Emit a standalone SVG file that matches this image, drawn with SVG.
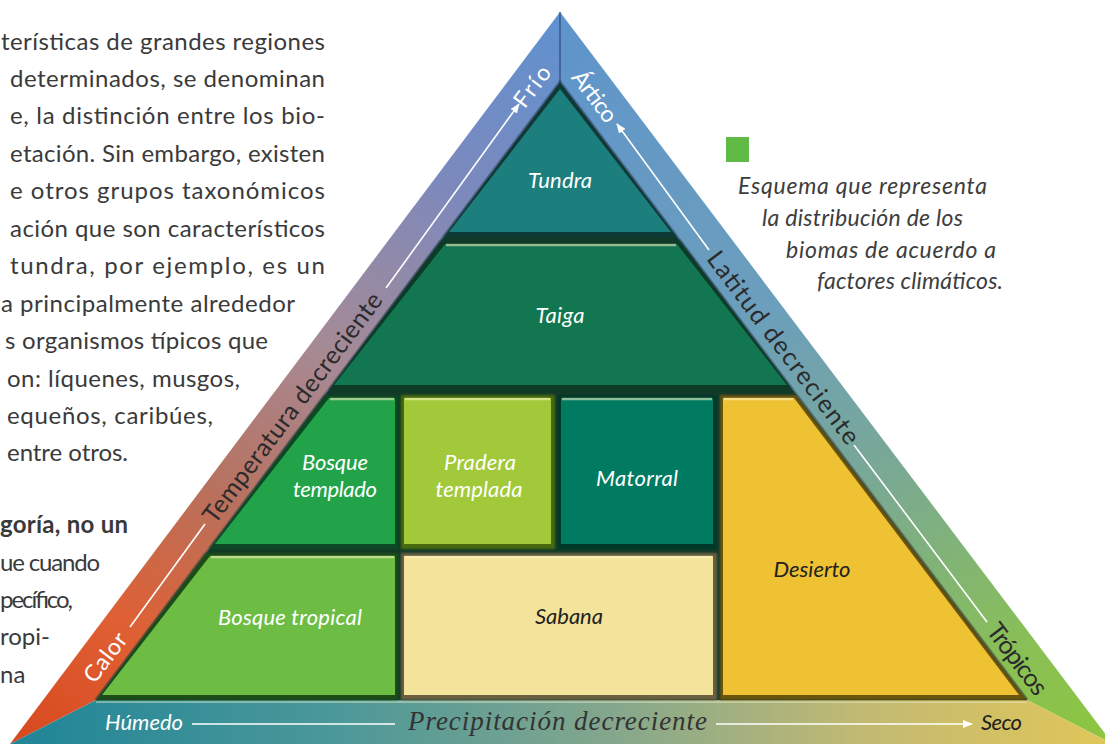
<svg xmlns="http://www.w3.org/2000/svg" width="1105" height="744" viewBox="0 0 1105 744">
<defs>
<style>
.body{font-family:Lato,"Liberation Sans",sans-serif;font-size:24px;fill:#3a3a3a}
.cap{font-family:Lato,"Liberation Sans",sans-serif;font-size:23px;font-style:italic;fill:#3d3d3d}
.lbw{font-family:Lato,"Liberation Sans",sans-serif;font-size:22px;font-style:italic;fill:#ffffff;text-anchor:middle}
.lbd{font-family:Lato,"Liberation Sans",sans-serif;font-size:22px;font-style:italic;fill:#222222;text-anchor:middle}
.band{font-family:Lato,"Liberation Sans",sans-serif;font-size:25px;fill:#2b2b2b;text-anchor:middle}
.bandw{font-family:Lato,"Liberation Sans",sans-serif;font-size:23px;fill:#ffffff;text-anchor:middle}
.axis{stroke:#ffffff;stroke-width:1.6;fill:none}
.hl{stroke:#fff6c8;stroke-opacity:0.55;stroke-width:2.5;fill:none}
</style>
<linearGradient id="gL" gradientUnits="userSpaceOnUse" x1="560" y1="12" x2="10" y2="744">
<stop offset="0" stop-color="#5f92d0"/>
<stop offset="0.22" stop-color="#7c89bd"/>
<stop offset="0.45" stop-color="#a68a95"/>
<stop offset="0.65" stop-color="#b9705c"/>
<stop offset="0.82" stop-color="#df6034"/>
<stop offset="1" stop-color="#d8481e"/>
</linearGradient>
<linearGradient id="gR" gradientUnits="userSpaceOnUse" x1="560" y1="12" x2="1113" y2="744">
<stop offset="0" stop-color="#5f94cc"/>
<stop offset="0.4" stop-color="#6c9fbb"/>
<stop offset="0.62" stop-color="#7aa993"/>
<stop offset="0.85" stop-color="#89bf57"/>
<stop offset="1" stop-color="#8dc63f"/>
</linearGradient>
<linearGradient id="gB" gradientUnits="userSpaceOnUse" x1="10" y1="0" x2="1105" y2="0">
<stop offset="0" stop-color="#1f8597"/>
<stop offset="0.3" stop-color="#4c9899"/>
<stop offset="0.55" stop-color="#84a78c"/>
<stop offset="0.78" stop-color="#c2ba72"/>
<stop offset="1" stop-color="#e0c65a"/>
</linearGradient>
<filter id="soft" x="-5%" y="-5%" width="110%" height="110%"><feGaussianBlur stdDeviation="1.2"/></filter>
<marker id="ah" markerUnits="userSpaceOnUse" markerWidth="10" markerHeight="8" refX="9" refY="4" orient="auto">
<path d="M0,0 L10,4 L0,8 z" fill="#ffffff"/>
</marker>
</defs>

<rect width="1105" height="744" fill="#ffffff"/>

<g id="body-text">
<text class="body" x="1" y="50" textLength="324" lengthAdjust="spacing">terísticas de grandes regiones</text>
<text class="body" x="10" y="87" textLength="315" lengthAdjust="spacing">determinados, se denominan</text>
<text class="body" x="10" y="124" textLength="315" lengthAdjust="spacing">e, la distinción entre los bio-</text>
<text class="body" x="10" y="162" textLength="315" lengthAdjust="spacing">etación. Sin embargo, existen</text>
<text class="body" x="10" y="199" textLength="315" lengthAdjust="spacing">e otros grupos taxonómicos</text>
<text class="body" x="10" y="237" textLength="315" lengthAdjust="spacing">ación que son característicos</text>
<text class="body" x="10" y="274" textLength="315" lengthAdjust="spacing">tundra, por ejemplo, es un</text>
<text class="body" x="1" y="312" textLength="294" lengthAdjust="spacing">a principalmente alrededor</text>
<text class="body" x="5" y="349" textLength="263" lengthAdjust="spacing">s organismos típicos que</text>
<text class="body" x="7" y="387" textLength="233" lengthAdjust="spacing">on: líquenes, musgos,</text>
<text class="body" x="7" y="424" textLength="206" lengthAdjust="spacing">equeños, caribúes,</text>
<text class="body" x="7" y="461" textLength="121" lengthAdjust="spacing">entre otros.</text>
<text class="body" x="0" y="533" textLength="128" lengthAdjust="spacing" font-weight="bold">goría, no un</text>
<text class="body" x="0" y="571" textLength="100" lengthAdjust="spacing">ue cuando</text>
<text class="body" x="0" y="608" textLength="73" lengthAdjust="spacing">pecífico,</text>
<text class="body" x="0" y="645">ropi-</text>
<text class="body" x="0" y="683">na</text>
</g>

<g id="frame">
<polygon id="band-left" points="560,12 560,82 96,700 10,744" fill="url(#gL)"/>
<polygon id="band-right" points="560,12 1113,744 1027,700 560,82" fill="url(#gR)"/>
<polygon id="band-bottom" points="10,744 96,700 1027,700 1113,744" fill="url(#gB)"/>
<line x1="560" y1="12" x2="560" y2="84" stroke="#2a4a78" stroke-opacity="0.6" stroke-width="2"/>
<polygon points="560,82 1027,700 96,700" fill="#123a2a"/>
<polyline points="96,700 560,82 1027,700" fill="none" stroke="#1c3350" stroke-opacity="0.45" stroke-width="3"/>
<line x1="96" y1="702" x2="1027" y2="702" stroke="#e8f0d0" stroke-opacity="0.45" stroke-width="2"/>
</g>

<g id="tundra">
<polygon points="560,84 444,237 676,237" fill="#0b3a38" filter="url(#soft)"/>
<polygon points="560,89 449,232 671,232" fill="#1d7f7d"/>
<text class="lbw" x="560" y="188" textLength="64" lengthAdjust="spacing">Tundra</text>
</g>

<g id="taiga">
<polygon points="441,241 680,241 792,390 329,390" fill="#083a25" filter="url(#soft)"/>
<polygon points="445,244 677,244 787,385 334,385" fill="#127650"/>
<line class="hl" x1="446" y1="245" x2="676" y2="245"/>
<text class="lbw" x="560" y="323" textLength="49" lengthAdjust="spacing">Taiga</text>
</g>

<g id="bosque-templado">
<polygon points="325,395 398,395 398,549 209,549" fill="#0a4a20" filter="url(#soft)"/>
<polygon points="329,398 395,398 395,544 215,544" fill="#22a34a"/>
<line class="hl" x1="330" y1="399" x2="394" y2="399"/>
<text class="lbw" x="335" y="470" textLength="66" lengthAdjust="spacing">Bosque</text>
<text class="lbw" x="335" y="497" textLength="84" lengthAdjust="spacing">templado</text>
</g>

<g id="pradera-templada">
<polygon points="401,395 555,395 555,549 401,549" fill="#4a6a10" filter="url(#soft)"/>
<polygon points="404,398 551,398 551,544 404,544" fill="#a2c93a"/>
<line class="hl" x1="405" y1="399" x2="550" y2="399"/>
<text class="lbw" x="480" y="470" textLength="72" lengthAdjust="spacing">Pradera</text>
<text class="lbw" x="479" y="497" textLength="87" lengthAdjust="spacing">templada</text>
</g>

<g id="matorral">
<polygon points="558,395 717,395 717,549 558,549" fill="#02392c" filter="url(#soft)"/>
<polygon points="561,398 713,398 713,544 561,544" fill="#007a60"/>
<line class="hl" x1="562" y1="399" x2="712" y2="399" stroke-opacity="0.3"/>
<text class="lbw" x="637" y="486" textLength="82" lengthAdjust="spacing">Matorral</text>
</g>

<g id="desierto">
<polygon points="720,395 796,395 1027,700 720,700" fill="#6a5410" filter="url(#soft)"/>
<polygon points="723,398 794,398 1019,695 723,695" fill="#eec232"/>
<line class="hl" x1="724" y1="399" x2="793" y2="399"/>
<text class="lbd" x="812" y="577" textLength="77" lengthAdjust="spacing">Desierto</text>
</g>

<g id="bosque-tropical">
<polygon points="206,553 398,553 398,700 96,700" fill="#1e4d14" filter="url(#soft)"/>
<polygon points="210,556 395,556 395,695 102,695" fill="#6dbd45"/>
<line class="hl" x1="211" y1="557" x2="394" y2="557"/>
<text class="lbw" x="290" y="625" textLength="144" lengthAdjust="spacing">Bosque tropical</text>
</g>

<g id="sabana">
<polygon points="401,553 717,553 717,700 401,700" fill="#6b6140" filter="url(#soft)"/>
<polygon points="404,556 713,556 713,695 404,695" fill="#f4e39a"/>
<line class="hl" x1="405" y1="557" x2="712" y2="557" stroke="#ffffff"/>
<text class="lbd" x="569" y="624" textLength="68" lengthAdjust="spacing">Sabana</text>
</g>

<g id="connectors">
<line class="axis" x1="130" y1="627" x2="205" y2="524"/>
<line class="axis" x1="386" y1="288" x2="519" y2="104" marker-end="url(#ah)"/>
<line class="axis" x1="709" y1="250" x2="617" y2="124" marker-end="url(#ah)"/>
<line class="axis" x1="854" y1="445" x2="987" y2="622"/>
<line class="axis" x1="192" y1="724" x2="395" y2="724"/>
<line class="axis" x1="716" y1="724" x2="972" y2="724" marker-end="url(#ah)"/>
</g>

<g id="axis-labels">
<text class="bandw" transform="translate(106,658) rotate(-53.1)" y="7" textLength="56" lengthAdjust="spacing">Calor</text>
<text class="band" transform="translate(293,408) rotate(-53.1)" y="8" textLength="281" lengthAdjust="spacing">Temperatura decreciente</text>
<text class="bandw" transform="translate(533,87) rotate(-53.1)" y="7" textLength="46" lengthAdjust="spacing">Frío</text>
<text class="bandw" transform="translate(594,97) rotate(52.9)" y="7" textLength="59" lengthAdjust="spacing">Ártico</text>
<text class="band" transform="translate(783,348) rotate(52.9)" y="8" textLength="235" lengthAdjust="spacing">Latitud decreciente</text>
<text class="band" transform="translate(1016,660) rotate(52.9)" y="7" font-size="23" textLength="83" lengthAdjust="spacing">Trópicos</text>
<text x="105" y="730" font-family="Lato, 'Liberation Sans', sans-serif" font-size="22" font-style="italic" fill="#ffffff" textLength="78" lengthAdjust="spacing">Húmedo</text>
<text x="408" y="730" font-family="'Liberation Serif', serif" font-size="27" font-style="italic" fill="#333333" textLength="299" lengthAdjust="spacing">Precipitación decreciente</text>
<text x="981" y="730" font-family="Lato, 'Liberation Sans', sans-serif" font-size="22" font-style="italic" fill="#1e1e1e" textLength="41" lengthAdjust="spacing">Seco</text>
</g>

<g id="caption">
<rect x="726" y="137" width="23" height="25" fill="#5fbb46"/>
<text class="cap" x="738" y="194" textLength="249" lengthAdjust="spacing">Esquema que representa</text>
<text class="cap" x="762" y="226" textLength="201" lengthAdjust="spacing">la distribución de los</text>
<text class="cap" x="786" y="258" textLength="210" lengthAdjust="spacing">biomas de acuerdo a</text>
<text class="cap" x="817" y="289" textLength="186" lengthAdjust="spacing">factores climáticos.</text>
</g>
</svg>
